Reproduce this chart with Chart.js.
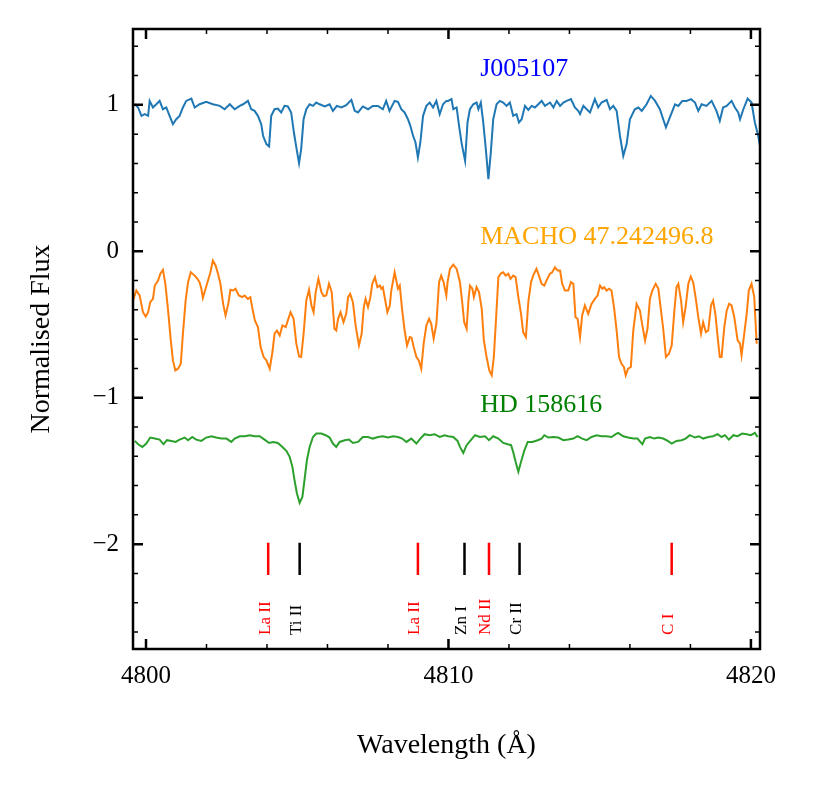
<!DOCTYPE html>
<html><head><meta charset="utf-8">
<script src="https://cdn.jsdelivr.net/npm/chart.js@4.4.0/dist/chart.umd.min.js"></script>
<style>html,body{margin:0;padding:0;background:#fff}#wrap{width:822px;height:789px;position:relative}</style>
</head><body><div id="wrap"><canvas id="c"></canvas></div>
<script>
// ---- axis ticks ----
const xTicks=[4800,4810,4820];
const xMinorTicks=[4802,4804,4806,4808,4812,4814,4816,4818];
const yTicks=[-2,-1,0,1];
const yMinorTicks=[-2.6,-2.4,-2.2,-1.8,-1.6,-1.4,-1.2,-0.8,-0.6,-0.4,-0.2,0.2,0.4,0.6,0.8,1.2,1.4];

// ---- spectra ----
const blueWl=[4799.63,4799.74,4799.85,4799.96,4800.07,4800.12,4800.23,4800.34,4800.45,4800.56,4800.67,4800.78,4800.89,4801.00,4801.11,4801.22,4801.33,4801.50,4801.61,4801.77,4801.99,4802.21,4802.44,4802.60,4802.77,4802.93,4803.10,4803.21,4803.37,4803.48,4803.59,4803.70,4803.81,4803.87,4803.98,4804.07,4804.14,4804.25,4804.36,4804.47,4804.58,4804.69,4804.80,4804.89,4804.97,4805.06,4805.13,4805.21,4805.30,4805.41,4805.52,4805.63,4805.74,4805.91,4806.07,4806.18,4806.31,4806.46,4806.62,4806.79,4806.90,4807.01,4807.17,4807.34,4807.50,4807.67,4807.83,4807.94,4808.05,4808.22,4808.33,4808.44,4808.55,4808.66,4808.74,4808.83,4808.91,4808.99,4809.07,4809.16,4809.27,4809.38,4809.49,4809.60,4809.71,4809.82,4809.93,
4809.99,4810.10,4810.16,4810.27,4810.35,4810.44,4810.55,4810.63,4810.71,4810.82,4810.93,4810.99,4811.07,4811.15,4811.23,4811.32,4811.40,4811.48,4811.59,4811.70,4811.81,4811.92,4812.03,4812.14,4812.25,4812.33,4812.42,4812.53,4812.64,4812.75,4812.86,4812.97,4813.08,4813.19,4813.36,4813.47,4813.58,4813.69,4813.80,4813.91,4814.05,4814.18,4814.29,4814.35,4814.46,4814.57,4814.68,4814.84,4814.95,4815.06,4815.23,4815.34,4815.45,4815.56,4815.67,4815.78,4815.89,4816.00,4816.16,4816.28,4816.39,4816.55,4816.69,4816.83,4816.99,4817.10,4817.19,4817.32,4817.49,4817.60,4817.73,4817.87,4818.02,4818.15,4818.26,4818.37,4818.53,4818.70,4818.86,4818.97,4819.08,4819.20,4819.36,4819.47,4819.58,4819.64,4819.75,4819.89,4820.02,4820.13,4820.24,4820.30];
const blueFlux=[1.004,0.982,0.925,0.936,0.925,1.027,0.982,1.004,1.027,0.970,0.982,0.925,0.868,0.902,0.925,0.982,1.027,1.043,0.982,1.004,1.020,1.004,0.993,0.970,1.004,0.970,0.993,1.004,1.027,0.970,0.959,0.925,0.868,0.789,0.732,0.716,0.925,0.970,0.975,0.948,0.993,0.989,0.948,0.811,0.709,0.602,0.698,0.902,0.970,1.004,0.993,1.016,1.004,0.989,1.004,0.959,0.993,0.982,0.998,1.034,0.959,0.948,0.989,0.970,0.993,0.993,0.970,1.027,0.959,1.027,1.020,0.970,0.948,0.902,0.857,0.789,0.743,0.641,0.743,0.925,0.993,1.016,0.982,1.027,0.936,1.004,1.027,
1.027,1.039,0.970,0.982,0.857,0.732,0.618,0.880,0.970,1.004,1.016,0.970,1.016,0.880,0.709,0.493,0.675,0.902,1.004,1.027,1.016,0.993,1.016,0.925,0.936,0.880,0.902,0.993,0.966,0.993,0.982,1.004,1.027,0.993,1.016,0.982,1.027,0.993,1.016,1.027,1.039,0.982,0.959,0.936,0.993,0.970,0.948,1.039,0.982,1.016,1.034,0.970,0.993,0.959,0.789,0.652,0.732,0.902,0.970,0.982,0.959,1.004,1.061,1.027,0.970,0.902,0.846,0.914,1.004,0.993,1.027,1.027,1.039,1.016,0.959,1.004,0.993,1.027,0.959,0.891,0.982,0.993,1.027,0.982,0.948,0.902,0.970,1.043,1.016,0.880,0.789,0.720];

const orangeWl=[4799.57,4799.68,4799.79,4799.90,4799.99,4800.07,4800.14,4800.23,4800.29,4800.40,4800.47,4800.56,4800.64,4800.73,4800.82,4800.89,4800.97,4801.06,4801.15,4801.22,4801.31,4801.39,4801.48,4801.61,4801.70,4801.77,4801.83,4801.88,4801.96,4802.05,4802.13,4802.21,4802.30,4802.38,4802.46,4802.55,4802.63,4802.72,4802.79,4802.88,4802.96,4803.07,4803.18,4803.26,4803.37,4803.45,4803.52,4803.60,4803.70,4803.79,4803.89,4803.98,4804.09,4804.18,4804.25,4804.33,4804.42,4804.51,4804.62,4804.69,4804.78,4804.88,4804.97,4805.06,4805.13,4805.21,4805.30,4805.39,4805.47,4805.54,4805.61,4805.70,4805.80,4805.87,4805.96,4806.05,4806.14,4806.23,4806.29,4806.35,4806.43,4806.53,4806.62,4806.68,4806.75,4806.84,4806.93,4807.04,4807.13,4807.20,4807.26,4807.34,4807.42,4807.48,4807.57,4807.65,4807.73,4807.78,4807.83,4807.91,4807.98,4808.06,4808.11,4808.22,4808.33,4808.39,4808.47,4808.55,4808.63,4808.72,4808.78,4808.85,4808.94,4809.02,4809.10,4809.18,4809.27,4809.36,4809.43,4809.51,4809.60,4809.69,4809.76,4809.84,4809.93,
4809.97,4810.05,4810.16,4810.27,4810.38,4810.46,4810.52,4810.60,4810.66,4810.71,4810.79,4810.84,4810.93,4811.01,4811.10,4811.17,4811.26,4811.35,4811.43,4811.50,4811.57,4811.65,4811.74,4811.81,4811.89,4811.98,4812.05,4812.14,4812.22,4812.31,4812.40,4812.47,4812.56,4812.64,4812.73,4812.80,4812.91,4812.99,4813.08,4813.17,4813.24,4813.35,4813.43,4813.52,4813.61,4813.69,4813.76,4813.85,4813.96,4814.05,4814.13,4814.20,4814.27,4814.35,4814.42,4814.51,4814.62,4814.73,4814.84,4814.93,4815.01,4815.09,4815.15,4815.23,4815.31,4815.39,4815.48,4815.56,4815.64,4815.72,4815.80,4815.86,4815.94,4816.03,4816.11,4816.22,4816.33,4816.41,4816.50,4816.58,4816.66,4816.74,4816.85,4816.94,4817.02,4817.10,4817.19,4817.29,4817.38,4817.47,4817.54,4817.60,4817.69,4817.76,4817.84,4817.93,4818.01,4818.09,4818.17,4818.26,4818.35,4818.42,4818.51,4818.59,4818.68,4818.75,4818.83,4818.90,4818.97,4819.03,4819.12,4819.20,4819.28,4819.36,4819.45,4819.56,4819.64,4819.69,4819.78,4819.86,4819.93,4820.02,4820.11,4820.19];
const orangeFlux=[-0.336,-0.268,-0.302,-0.416,-0.445,-0.416,-0.347,-0.325,-0.234,-0.200,-0.154,-0.127,-0.222,-0.404,-0.609,-0.745,-0.813,-0.802,-0.768,-0.563,-0.336,-0.211,-0.143,-0.166,-0.188,-0.211,-0.256,-0.318,-0.263,-0.200,-0.143,-0.063,-0.097,-0.154,-0.222,-0.359,-0.438,-0.359,-0.263,-0.268,-0.256,-0.302,-0.313,-0.302,-0.325,-0.313,-0.393,-0.472,-0.518,-0.654,-0.722,-0.745,-0.802,-0.688,-0.563,-0.541,-0.575,-0.506,-0.518,-0.472,-0.416,-0.461,-0.631,-0.718,-0.722,-0.563,-0.336,-0.263,-0.370,-0.416,-0.279,-0.188,-0.279,-0.306,-0.302,-0.222,-0.279,-0.529,-0.541,-0.461,-0.416,-0.484,-0.427,-0.313,-0.291,-0.347,-0.506,-0.643,-0.563,-0.381,-0.325,-0.381,-0.313,-0.222,-0.177,-0.245,-0.234,-0.256,-0.245,-0.336,-0.416,-0.370,-0.268,-0.143,-0.256,-0.234,-0.404,-0.541,-0.643,-0.586,-0.591,-0.654,-0.722,-0.745,-0.802,-0.631,-0.506,-0.461,-0.495,-0.597,-0.495,-0.211,-0.166,-0.211,-0.302,
-0.211,-0.120,-0.091,-0.120,-0.211,-0.359,-0.484,-0.529,-0.336,-0.234,-0.256,-0.313,-0.245,-0.279,-0.393,-0.609,-0.722,-0.813,-0.847,-0.722,-0.472,-0.177,-0.150,-0.143,-0.166,-0.154,-0.188,-0.166,-0.177,-0.313,-0.427,-0.552,-0.586,-0.347,-0.211,-0.166,-0.120,-0.166,-0.222,-0.234,-0.200,-0.154,-0.143,-0.109,-0.132,-0.132,-0.222,-0.268,-0.268,-0.211,-0.222,-0.450,-0.461,-0.586,-0.438,-0.370,-0.427,-0.359,-0.325,-0.302,-0.234,-0.256,-0.245,-0.268,-0.256,-0.268,-0.393,-0.541,-0.722,-0.768,-0.790,-0.847,-0.802,-0.790,-0.541,-0.359,-0.404,-0.506,-0.609,-0.529,-0.325,-0.268,-0.222,-0.256,-0.393,-0.529,-0.722,-0.700,-0.643,-0.404,-0.245,-0.222,-0.336,-0.484,-0.381,-0.222,-0.172,-0.211,-0.313,-0.450,-0.563,-0.484,-0.552,-0.541,-0.370,-0.336,-0.438,-0.586,-0.722,-0.722,-0.518,-0.404,-0.359,-0.370,-0.450,-0.609,-0.631,-0.711,-0.563,-0.427,-0.268,-0.222,-0.313,-0.631];

const greenWl=[4799.63,4799.74,4799.88,4800.01,4800.14,4800.29,4800.45,4800.58,4800.69,4800.84,4800.98,4801.11,4801.28,4801.39,4801.53,4801.66,4801.83,4801.99,4802.16,4802.32,4802.49,4802.66,4802.82,4802.93,4803.10,4803.26,4803.43,4803.59,4803.76,4803.92,4804.07,4804.20,4804.36,4804.51,4804.64,4804.75,4804.84,4804.91,4804.99,4805.08,4805.17,4805.24,4805.32,4805.41,4805.52,4805.63,4805.80,4805.94,4806.07,4806.18,4806.29,4806.40,4806.57,4806.71,4806.84,4807.01,4807.17,4807.34,4807.50,4807.67,4807.83,4808.00,4808.17,4808.33,4808.47,4808.61,4808.77,4808.94,4809.07,4809.21,4809.38,4809.54,4809.71,4809.87,
4809.99,4810.16,4810.30,4810.38,4810.49,4810.60,4810.74,4810.88,4811.04,4811.21,4811.34,4811.48,4811.65,4811.81,4811.96,4812.07,4812.14,4812.22,4812.31,4812.40,4812.51,4812.62,4812.77,4812.95,4813.08,4813.17,4813.30,4813.47,4813.63,4813.80,4813.96,4814.13,4814.27,4814.42,4814.57,4814.73,4814.90,4815.06,4815.23,4815.39,4815.53,4815.61,4815.78,4815.94,4816.11,4816.25,4816.41,4816.50,4816.66,4816.80,4816.94,4817.10,4817.25,4817.38,4817.54,4817.71,4817.84,4817.98,4818.15,4818.28,4818.42,4818.59,4818.75,4818.90,4819.03,4819.14,4819.27,4819.42,4819.56,4819.71,4819.86,4820.00,4820.13,4820.22];
const greenFlux=[-1.295,-1.318,-1.336,-1.313,-1.272,-1.279,-1.286,-1.318,-1.290,-1.295,-1.302,-1.286,-1.272,-1.290,-1.268,-1.286,-1.295,-1.272,-1.263,-1.272,-1.279,-1.279,-1.302,-1.279,-1.263,-1.263,-1.256,-1.263,-1.263,-1.286,-1.309,-1.302,-1.309,-1.336,-1.363,-1.404,-1.472,-1.563,-1.654,-1.718,-1.677,-1.563,-1.427,-1.336,-1.268,-1.245,-1.245,-1.256,-1.272,-1.313,-1.336,-1.302,-1.290,-1.286,-1.309,-1.302,-1.268,-1.268,-1.279,-1.268,-1.263,-1.272,-1.263,-1.268,-1.279,-1.302,-1.279,-1.313,-1.279,-1.249,-1.256,-1.249,-1.268,-1.256,
-1.263,-1.268,-1.295,-1.336,-1.377,-1.324,-1.290,-1.256,-1.268,-1.263,-1.290,-1.263,-1.279,-1.309,-1.318,-1.324,-1.370,-1.438,-1.506,-1.438,-1.359,-1.302,-1.302,-1.290,-1.279,-1.256,-1.272,-1.268,-1.272,-1.290,-1.286,-1.279,-1.263,-1.279,-1.290,-1.268,-1.256,-1.263,-1.263,-1.268,-1.249,-1.240,-1.263,-1.272,-1.279,-1.279,-1.318,-1.279,-1.268,-1.279,-1.272,-1.279,-1.295,-1.313,-1.295,-1.290,-1.279,-1.256,-1.272,-1.263,-1.279,-1.268,-1.263,-1.249,-1.268,-1.256,-1.286,-1.256,-1.263,-1.245,-1.249,-1.256,-1.240,-1.268];

// ---- series labels ----
const seriesNames=['J005107','MACHO 47.242496.8','HD 158616'];
const seriesLabelX=4811.05;
const seriesLabelY=[1.2,0.05,-1.1];

// ---- identified lines ----
const elemNames=['La II','Ti II','La II','Zn I','Nd II','Cr II','C I'];
const elemWl=[4804.04,4805.08,4808.99,4810.53,4811.34,4812.35,4817.38];
const elemIsRed=[true,false,true,false,true,false,true];
const elemTop=-1.99, elemBottom=-2.21, elemLabelY=-2.62;

const lineColors={blue:'#1f77b4',orange:'#ff7f0e',green:'#2ca02c'};
const labelColors=['#0000ff','#ffa500','#008000'];

const pts=(xs,ys)=>xs.map((v,i)=>({x:v,y:ys[i]}));
function markerData(red){
  const d=[];
  elemWl.forEach((w,i)=>{ if(elemIsRed[i]===red){ d.push({x:w,y:elemTop},{x:w,y:elemBottom},{x:w,y:null}); } });
  return d;
}

const SERIF='"Liberation Serif","DejaVu Serif",serif';

const framePlugin={
  id:'frame',
  afterDatasetsDraw(chart){
    const {ctx,chartArea:ca,scales:{x,y}}=chart;
    ctx.save();
    // series labels
    ctx.font='26px '+SERIF; ctx.textAlign='left'; ctx.textBaseline='alphabetic';
    seriesNames.forEach((n,i)=>{ctx.fillStyle=labelColors[i];ctx.fillText(n,x.getPixelForValue(seriesLabelX),y.getPixelForValue(seriesLabelY[i]));});
    // element labels
    ctx.font='17px '+SERIF;
    elemNames.forEach((n,i)=>{
      ctx.save();
      ctx.translate(x.getPixelForValue(elemWl[i])-3,y.getPixelForValue(elemLabelY));
      ctx.rotate(-Math.PI/2);
      ctx.textAlign='left';ctx.textBaseline='middle';
      ctx.fillStyle=elemIsRed[i]?'#ff0000':'#000000';
      ctx.fillText(n,0,0);
      ctx.restore();
    });
    // frame
    ctx.strokeStyle='#000';
    ctx.lineWidth=2.5;
    ctx.strokeRect(ca.left,ca.top,ca.width,ca.height);
    const tick=(vals,len,w)=>{
      ctx.lineWidth=w;ctx.beginPath();
      vals.forEach(v=>{const px=x.getPixelForValue(v);ctx.moveTo(px,ca.bottom);ctx.lineTo(px,ca.bottom-len);ctx.moveTo(px,ca.top);ctx.lineTo(px,ca.top+len);});
      ctx.stroke();
    };
    const ytick=(vals,len,w)=>{
      ctx.lineWidth=w;ctx.beginPath();
      vals.forEach(v=>{const py=y.getPixelForValue(v);ctx.moveTo(ca.left,py);ctx.lineTo(ca.left+len,py);ctx.moveTo(ca.right,py);ctx.lineTo(ca.right-len,py);});
      ctx.stroke();
    };
    tick(xTicks,10,2.5);tick(xMinorTicks,5,1.5);
    ytick(yTicks,10,2.5);ytick(yMinorTicks,5,1.5);
    ctx.restore();
  }
};

new Chart(document.getElementById('c'),{
  type:'scatter',
  data:{datasets:[
    {data:pts(blueWl,blueFlux),borderColor:lineColors.blue,borderWidth:2},
    {data:pts(orangeWl,orangeFlux),borderColor:lineColors.orange,borderWidth:2},
    {data:pts(greenWl,greenFlux),borderColor:lineColors.green,borderWidth:2},
    {data:markerData(true),borderColor:'#ff0000',borderWidth:2.5,spanGaps:false},
    {data:markerData(false),borderColor:'#000000',borderWidth:2.5,spanGaps:false}
  ].map(d=>Object.assign({showLine:true,pointRadius:0,pointHoverRadius:0,tension:0,fill:false},d))},
  options:{
    responsive:true,maintainAspectRatio:false,animation:false,events:[],
    layout:{padding:{top:28,right:62,left:0,bottom:0}},
    plugins:{legend:{display:false},tooltip:{enabled:false}},
    scales:{
      x:{type:'linear',min:4799.57,max:4820.3,
        afterBuildTicks:s=>{s.ticks=xTicks.map(v=>({value:v}));},
        afterFit:s=>{s.height=140;},
        grid:{display:false,drawTicks:false},border:{display:false},
        ticks:{padding:12,color:'#000',font:{family:SERIF,size:25},maxRotation:0,callback:v=>String(v)},
        title:{display:true,text:'Wavelength (Å)',color:'#000',font:{family:SERIF,size:28},padding:{top:0,bottom:27}}
      },
      y:{type:'linear',min:-2.716,max:1.518,
        afterBuildTicks:s=>{s.ticks=yTicks.map(v=>({value:v}));},
        afterFit:s=>{s.width=133;},
        grid:{display:false,drawTicks:false},border:{display:false},
        ticks:{padding:14,color:'#000',font:{family:SERIF,size:25},callback:v=>String(v).replace('-','\u2212')},
        title:{display:true,text:'Normalised Flux',color:'#000',font:{family:SERIF,size:28},padding:{top:25,bottom:0}}
      }
    }
  },
  plugins:[framePlugin]
});
</script></body></html>
